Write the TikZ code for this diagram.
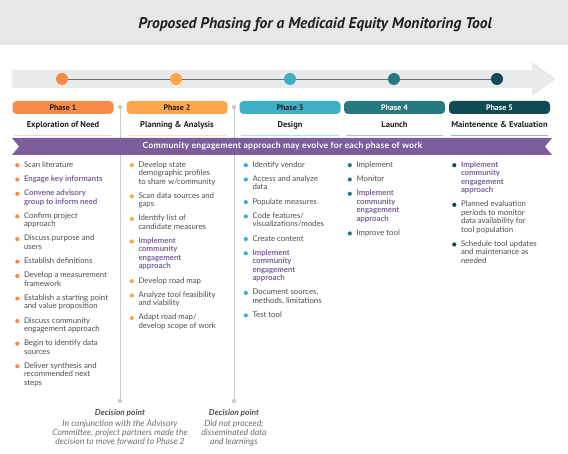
\documentclass[tikz,border=0pt]{standalone}
\usepackage{fontspec}
\setmainfont{Lato}
\newfontfamily\headfont{PT Sans}
\newfontfamily\bannerfont{Lato}[LetterSpace=3]
\usetikzlibrary{positioning}

\definecolor{bandgray}{HTML}{E6E7E8}
\definecolor{arrowgray}{HTML}{E9EAEB}
\definecolor{tlgray}{HTML}{6D6E71}
\definecolor{hdark}{HTML}{231F20}
\definecolor{ph1}{HTML}{F68B47}
\definecolor{ph2}{HTML}{FBA64A}
\definecolor{ph3}{HTML}{3FB0C3}
\definecolor{ph4}{HTML}{26797F}
\definecolor{ph5}{HTML}{0F4B54}
\definecolor{ul1}{HTML}{FCD3B6}
\definecolor{ul2}{HTML}{FDDDB5}
\definecolor{ul3}{HTML}{B3E0E8}
\definecolor{ul4}{HTML}{A8C9CB}
\definecolor{ul5}{HTML}{9DB7BB}
\definecolor{engpurple}{HTML}{7C5E9B}
\definecolor{txtgray}{HTML}{4D4D4F}
\definecolor{notegray}{HTML}{6D6E71}
\definecolor{linegray}{HTML}{CBCBCB}

\begin{document}
\begin{tikzpicture}[x=1pt,y=-1pt,
    phasebox/.style={rounded corners=4pt, minimum width=101pt, minimum height=13pt,
      inner sep=0pt, font=\headfont\fontsize{8}{9}\selectfont\bfseries},
    phasename/.style={inner sep=0pt, text height=6.5pt, text depth=2pt, text=hdark,
      font=\headfont\fontsize{8.5}{10}\selectfont\bfseries},
    underline/.style={draw=#1, line width=1.2pt},
    stopdot/.style={circle, fill=#1, inner sep=0pt, minimum size=12pt},
    divdot/.style={circle, fill=linegray, inner sep=0pt, minimum size=4.5pt},
    divider/.style={draw=linegray, line width=1pt},
    task/.style={inner sep=0pt, align=left, text=txtgray, font=\fontsize{7.8}{8.5}\selectfont,
      execute at begin node=\strut, execute at end node=\strut},
    basic/.style={},
    engage/.style={text=engpurple, font=\fontsize{7.8}{8.5}\selectfont\bfseries},
    dectitle/.style={inner sep=0pt, text=txtgray, font=\fontsize{8.3}{9}\selectfont\bfseries\itshape},
    decnote/.style={inner sep=0pt, align=center, text=notegray, font=\fontsize{8.6}{9.3}\selectfont\itshape}]

  \useasboundingbox (0,0) rectangle (568,454);

  % title band
  \fill[bandgray] (0,0) rectangle (568,45);
  \node[anchor=base, text=hdark, font=\headfont\fontsize{15.5}{17}\selectfont\bfseries\itshape]
    (title) at (315,28.5) {Proposed Phasing for a Medicaid Equity Monitoring Tool};

  % timeline arrow
  \fill[arrowgray] (12,70) -- (532,70) -- (532,62) -- (556,79) -- (532,96) -- (532,88) -- (12,88) -- cycle;
  \foreach \n/\x in {1/62,2/176,3/290,4/394,5/497}
    \node[stopdot=ph\n] (t\n) at (\x,79) {};
  \draw[tlgray, line width=0.8pt] (t1) -- (t2) -- (t3) -- (t4) -- (t5);

  % decision point dividers
  \foreach \d/\x in {1/120,2/234}{
    \node[divdot] (top\d) at (\x,107) {};
    \node[divdot] (bot\d) at (\x,401) {};
    \draw[divider] (top\d) -- (bot\d);
  }

  % phase headers
  \foreach \n/\x/\tc/\name in {1/63/hdark/Exploration of Need,
      2/177/hdark/Planning \& Analysis, 3/290/hdark/Design,
      4/394.5/white/Launch, 5/499.5/white/Maintenence \& Evaluation}{
    \node[phasebox, fill=ph\n, text=\tc] (p\n) at (\x,107.5) {Phase \n};
    \node[phasename, below=7pt of p\n] (n\n) {\name};
    \draw[underline=ul\n] ([xshift=2pt,yshift=-21pt]p\n.south west)
      -- ([xshift=-2pt,yshift=-21pt]p\n.south east);
  }

  % community engagement banner
  \fill[engpurple] (12,138) -- (552,138) -- (545,146.5) -- (552,155) -- (12,155) -- (19,146.5) -- cycle;
  \node[text=white, font=\bannerfont\fontsize{8.6}{10}\selectfont\bfseries]
    (banner) at (282.5,146.5) {Community engagement approach may evolve for each phase of work};

  % phase 1 tasks
  \node[inner sep=0pt, minimum size=0pt] (c1-0) at (24,155.6) {};
  \foreach \kind/\txt [count=\i] in {basic/Scan literature, engage/Engage key informants,
      engage/Convene advisory\\group to inform need, basic/Confirm project\\approach,
      basic/Discuss purpose and\\users, basic/Establish definitions,
      basic/Develop a measurement\\framework, basic/Establish a starting point\\and value proposition,
      basic/Discuss community\\engagement approach, basic/Begin to identify data\\sources,
      basic/Deliver synthesis and\\recommended next\\steps}{
    \pgfmathtruncatemacro\j{\i-1}
    \node[task, \kind, below=5.4pt of c1-\j.south west, anchor=north west] (c1-\i) {\txt};
    \fill[ph1] (c1-\i.north west) ++(-6.5pt,-4pt) circle (2.1pt);
  }

  % phase 2 tasks
  \node[inner sep=0pt, minimum size=0pt] (c2-0) at (138.5,155.6) {};
  \foreach \kind/\txt [count=\i] in {basic/Develop state\\demographic profiles\\to share w{/}community,
      basic/Scan data sources and\\gaps, basic/Identify list of\\candidate measures,
      engage/Implement\\community\\engagement\\approach, basic/Develop road map,
      basic/Analyze tool feasibility\\and viability, basic/Adapt road map{/}\\develop scope of work}{
    \pgfmathtruncatemacro\j{\i-1}
    \node[task, \kind, below=5.4pt of c2-\j.south west, anchor=north west] (c2-\i) {\txt};
    \fill[ph2] (c2-\i.north west) ++(-6.5pt,-4pt) circle (2.1pt);
  }

  % phase 3 tasks
  \node[inner sep=0pt, minimum size=0pt] (c3-0) at (252.5,155.6) {};
  \foreach \kind/\txt [count=\i] in {basic/Identify vendor, basic/Access and analyze\\data,
      basic/Populate measures, basic/Code features{/}\\visualizations{/}modes,
      basic/Create content, engage/Implement\\community\\engagement\\approach,
      basic/Document sources{,}\\methods{,} limitations, basic/Test tool}{
    \pgfmathtruncatemacro\j{\i-1}
    \node[task, \kind, below=5.4pt of c3-\j.south west, anchor=north west] (c3-\i) {\txt};
    \fill[ph3] (c3-\i.north west) ++(-6.5pt,-4pt) circle (2.1pt);
  }

  % phase 4 tasks
  \node[inner sep=0pt, minimum size=0pt] (c4-0) at (356.5,155.6) {};
  \foreach \kind/\txt [count=\i] in {basic/Implement, basic/Monitor,
      engage/Implement\\community\\engagement\\approach, basic/Improve tool}{
    \pgfmathtruncatemacro\j{\i-1}
    \node[task, \kind, below=5.4pt of c4-\j.south west, anchor=north west] (c4-\i) {\txt};
    \fill[ph4] (c4-\i.north west) ++(-6.5pt,-4pt) circle (2.1pt);
  }

  % phase 5 tasks
  \node[inner sep=0pt, minimum size=0pt] (c5-0) at (461,155.6) {};
  \foreach \kind/\txt [count=\i] in {engage/Implement\\community\\engagement\\approach,
      basic/Planned evaluation\\periods to monitor\\data availability for\\tool population,
      basic/Schedule tool updates\\and maintenance as\\needed}{
    \pgfmathtruncatemacro\j{\i-1}
    \node[task, \kind, below=5.4pt of c5-\j.south west, anchor=north west] (c5-\i) {\txt};
    \fill[ph5] (c5-\i.north west) ++(-6.5pt,-4pt) circle (2.1pt);
  }

  % decision points
  \node[dectitle] (dec1) at (120,413.5) {Decision point};
  \node[decnote, below=2pt of dec1] (note1) {In conjunction with the Advisory\\
    Committee, project partners made the\\decision to move forward to Phase 2};
  \node[dectitle] (dec2) at (234,413.5) {Decision point};
  \node[decnote, below=2pt of dec2] (note2) {Did not proceed;\\disseminated data\\and learnings};
\end{tikzpicture}
\end{document}
